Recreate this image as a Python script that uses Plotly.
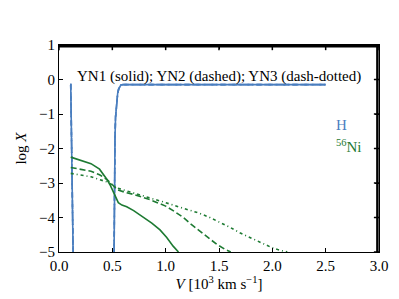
import plotly.graph_objects as go

# H mass fraction (log), same for the three models (overlapping); None breaks where it leaves the plot
h_v = [0.105, 0.11, 0.115, 0.12, 0.125, 0.13, 0.135, None, 0.515, 0.517, 0.52, 0.525, 0.53, 0.54, 0.55, 0.56, 0.57, 0.58, 0.6, 0.65, 1.0, 1.5, 2.0, 2.5]
h_x = [-0.15, -0.15, -1.2, -2.4, -3.6, -4.5, -5.6, None, -5.6, -3.5, -2.6, -1.7, -1.1, -0.6, -0.4, -0.27, -0.2, -0.16, -0.15, -0.15, -0.15, -0.15, -0.15, -0.15]

# 56Ni
ni1_v = [0.11, 0.2, 0.3, 0.38, 0.416, 0.45, 0.478, 0.5, 0.525, 0.54, 0.556, 0.59, 0.635, 0.7, 0.79, 0.87, 0.947, 1.01, 1.07, 1.12]
ni1_x = [-2.25, -2.33, -2.44, -2.6, -2.74, -2.9, -3.05, -3.2, -3.38, -3.5, -3.57, -3.64, -3.69, -3.8, -3.99, -4.16, -4.36, -4.58, -4.83, -5.0]
ni2_v = [0.11, 0.2, 0.3, 0.38, 0.45, 0.5, 0.55, 0.62, 0.7, 0.85, 1.0, 1.08, 1.166, 1.24, 1.32, 1.4, 1.48, 1.55, 1.61]
ni2_x = [-2.55, -2.6, -2.66, -2.76, -2.9, -3.05, -3.2, -3.27, -3.33, -3.48, -3.67, -3.82, -4.0, -4.2, -4.4, -4.59, -4.78, -4.91, -5.0]
ni3_v = [0.11, 0.2, 0.3, 0.45, 0.55, 0.7, 0.85, 1.0, 1.15, 1.3, 1.4, 1.5, 1.6, 1.7, 1.8, 1.9, 2.0, 2.05, 2.14]
ni3_x = [-2.72, -2.76, -2.82, -2.97, -3.15, -3.29, -3.42, -3.57, -3.72, -3.86, -3.98, -4.12, -4.28, -4.45, -4.6, -4.75, -4.88, -4.93, -5.0]

x_ticks = [0.0, 0.5, 1.0, 1.5, 2.0, 2.5, 3.0]
y_ticks = [-5, -4, -3, -2, -1, 0, 1]

BLUE = "#4a7ebf"
GREEN = "#1d7a32"
FONT = "Liberation Serif, Times New Roman, DejaVu Serif, serif"

fig = go.Figure()
dashes = ["solid", "6px,3px", "5px,3px,1px,3px"]
for d in dashes:
    fig.add_trace(go.Scatter(x=h_v, y=h_x, mode="lines", line=dict(color=BLUE, width=1.6, dash=d),
                             showlegend=False))
for v, x, d in [(ni1_v, ni1_x, dashes[0]), (ni2_v, ni2_x, dashes[1]), (ni3_v, ni3_x, "3px,3px,1px,3px")]:
    fig.add_trace(go.Scatter(x=v, y=x, mode="lines", line=dict(color=GREEN, width=1.6, dash=d),
                             showlegend=False))

fig.add_annotation(x=0.5, y=0.9, xref="paper", yref="paper", text="YN1 (solid); YN2 (dashed); YN3 (dash-dotted)",
                   showarrow=False, font=dict(family=FONT, size=15, color="black"))
fig.add_annotation(x=2.58, y=-1.31, text="H", showarrow=False, xanchor="left",
                   font=dict(family=FONT, size=15, color=BLUE))
fig.add_annotation(x=2.58, y=-1.92, text="<sup>56</sup>Ni", showarrow=False, xanchor="left",
                   font=dict(family=FONT, size=15, color=GREEN))

# frame (top and right edges), drawn just inside the plot area
fig.add_shape(type="line", xref="paper", yref="paper", x0=0, x1=1, y0=0.994, y1=0.994,
              line=dict(color="black", width=2.5), layer="above")
fig.add_shape(type="line", xref="paper", yref="paper", x0=0.995, x1=0.995, y0=0, y1=1,
              line=dict(color="black", width=2.5), layer="above")
# inside ticks on top and right edges
for t in x_ticks:
    fig.add_shape(type="line", xref="x", yref="paper", x0=t, x1=t, y0=1, y1=0.975,
                  line=dict(color="black", width=1.5), layer="above")
for t in y_ticks:
    fig.add_shape(type="line", xref="paper", yref="y", x0=1, x1=0.984, y0=t, y1=t,
                  line=dict(color="black", width=1.5), layer="above")

axis_common = dict(showgrid=False, zeroline=False, showline=True, linecolor="black", linewidth=1.2,
                   mirror="allticks", ticks="inside", ticklen=4, tickcolor="black",
                   tickfont=dict(family=FONT, size=15, color="black"))
fig.update_xaxes(range=[0, 3], tickvals=x_ticks, ticktext=[f"{t:.1f}" for t in x_ticks],
                 title=dict(text="<i>V</i> [10<sup>3</sup> km s<sup>−1</sup>]", font=dict(family=FONT, size=15, color="black"), standoff=2),
                 **axis_common)
fig.update_yaxes(range=[-5, 1], tickvals=y_ticks, ticktext=[str(t).replace("-", "−") for t in y_ticks],
                 title=dict(text="log <i>X</i>", font=dict(family=FONT, size=15, color="black"), standoff=8),
                 **axis_common)
fig.update_layout(width=391, height=291, margin=dict(l=51, r=20, t=37, b=47),
                  paper_bgcolor="white", plot_bgcolor="white")
fig.write_html("out.html")
